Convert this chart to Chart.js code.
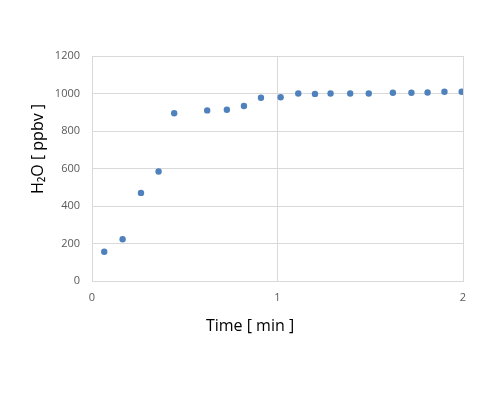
<!DOCTYPE html>
<html>
<head>
<meta charset="utf-8">
<script src="https://cdn.jsdelivr.net/npm/chart.js@4/dist/chart.umd.min.js"></script>
<style>
  html, body { margin: 0; padding: 0; background: #fff; }
  #wrap { width: 500px; height: 400px; }
</style>
</head>
<body>
<div id="wrap"><canvas id="waterChart"></canvas></div>
<script>
// time [min] and H2O [ppbv]
var timeMin = [0.066, 0.165, 0.264, 0.359, 0.443, 0.621, 0.727, 0.819, 0.911, 1.017,
               1.112, 1.202, 1.286, 1.392, 1.492, 1.622, 1.722, 1.809, 1.900, 1.993];
var h2oPpbv = [156, 223, 470, 584, 895, 910, 913, 933, 977, 980,
               1000, 998, 1000, 1000, 1000, 1004, 1004, 1005, 1009, 1009];
var xTicks = [0, 1, 2];
var yTicks = [0, 200, 400, 600, 800, 1000, 1200];
var xTitle = "Time [ min ]";
var yTitle = "H\u2082O [ ppbv ]";

var points = [];
for (var i = 0; i < timeMin.length; i++) {
    points.push({x: timeMin[i], y: h2oPpbv[i]});
}

var gridColor = "#d9d9d9";
var tickFont = {family: "'Open Sans', sans-serif", size: 11};
var plainLabel = function (v) { return String(v); };

// axis titles sit a little off the plot centre, like the original
var axisTitles = {
    id: "axisTitles",
    afterDraw: function (chart) {
        var ctx = chart.ctx, area = chart.chartArea;
        ctx.save();
        ctx.fillStyle = "#000";
        ctx.font = "16px 'Open Sans', sans-serif";
        ctx.textAlign = "center";
        ctx.textBaseline = "middle";
        ctx.fillText(xTitle, chart.width / 2, area.bottom + 45);
        ctx.translate(area.left - 54, area.top + 93);
        ctx.rotate(-Math.PI / 2);
        ctx.fillText(yTitle, 0, 0);
        ctx.restore();
    }
};

new Chart(document.getElementById("waterChart"), {
    type: "scatter",
    data: {
        datasets: [{
            data: points,
            backgroundColor: "#4f81bd",
            borderColor: "#4f81bd",
            pointRadius: 3.2,
            pointBorderWidth: 0
        }]
    },
    options: {
        responsive: true,
        maintainAspectRatio: false,
        animation: false,
        layout: {padding: {top: 56, left: 0, right: 0, bottom: 0}},
        plugins: {legend: {display: false}, tooltip: {enabled: false}},
        scales: {
            x: {
                type: "linear",
                min: 0, max: 2,
                afterBuildTicks: function (s) { s.ticks = xTicks.map(function (v) { return {value: v}; }); },
                afterFit: function (s) { s.height = 119; },
                grid: {color: gridColor, drawTicks: false},
                border: {color: gridColor},
                ticks: {color: "#595959", font: tickFont, padding: 10, callback: plainLabel}
            },
            y: {
                min: 0, max: 1200,
                afterBuildTicks: function (s) { s.ticks = yTicks.map(function (v) { return {value: v}; }); },
                afterFit: function (s) { s.width = 92; },
                grid: {color: gridColor, drawTicks: false},
                border: {color: gridColor},
                ticks: {color: "#595959", font: tickFont, padding: 12, callback: plainLabel}
            },
            spare: {
                position: "right",
                min: 0, max: 1,
                afterFit: function (s) { s.width = 37; },
                grid: {display: false},
                border: {display: false},
                ticks: {display: false}
            }
        }
    },
    plugins: [axisTitles]
});
</script>
</body>
</html>
